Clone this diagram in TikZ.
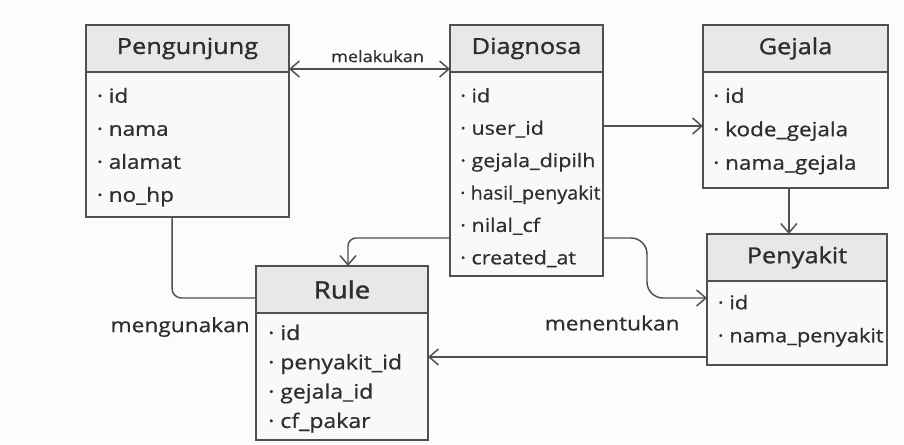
\documentclass[tikz,border=0pt]{standalone}
\usepackage{fontspec}
\usepackage{graphicx}
\usepackage{tikz}
\usetikzlibrary{arrows.meta,positioning}
\newfontfamily\erdfont{Open Sans}[FakeStretch=1.15,FakeBold=0.7]
\newfontfamily\erdheadfont{Open Sans}[FakeStretch=1.15,FakeBold=1.3]
\definecolor{ink}{HTML}{2E2E2E}
\definecolor{edge}{HTML}{505050}
\definecolor{headfill}{HTML}{E8E8E8}
\definecolor{bodyfill}{HTML}{F9F9F9}
\definecolor{paper}{HTML}{FDFBFB}

\tikzset{
  entityhead/.style={draw=edge,fill=headfill,line width=1.2pt,outer sep=0pt,inner sep=0pt,
    minimum height=35.25pt,text=ink,font=\erdheadfont\fontsize{16.5}{18}\selectfont},
  entitybody/.style={draw=edge,fill=bodyfill,line width=1.2pt,outer sep=0pt,inner sep=0pt},
  attrs/.style={anchor=north west,inner sep=0pt,align=left,text=ink,
    font=\erdfont\fontsize{14.7}{24.75}\selectfont},
  rel/.style={draw=edge,line width=1.1pt},
  onetip/.style={-{Straight Barb[length=7pt,width=12pt]}},
  twotips/.style={{Straight Barb[length=7pt,width=12pt]}-{Straight Barb[length=7pt,width=12pt]}},
  lbl/.style={text=ink,inner sep=0pt,font=\erdfont\fontsize{14.8}{16}\selectfont}
}

\begin{document}
\begin{tikzpicture}[x=0.75pt,y=-0.75pt]
\fill[paper] (0,0) rectangle (904,445);
\useasboundingbox (0,0) rectangle (904,445);

% entities
\node[entityhead,minimum width=152.25pt,anchor=north west] (pengH) at (86,25) {Pengunjung};
\node[entitybody,minimum width=152.25pt,minimum height=108.75pt,below=0pt of pengH] (pengB) {};
\node[attrs] (pengA) at ([xshift=8pt,yshift=-11.7pt]pengB.north west)
  {· id\\· nama\\· alamat\\· no\_hp};

\node[entityhead,minimum width=114.75pt,anchor=north west] (diagH) at (450,25) {Diagnosa};
\node[entitybody,minimum width=114.75pt,minimum height=153pt,below=0pt of diagH] (diagB) {};
\node[attrs,font=\erdfont\fontsize{14}{24.3}\selectfont] (diagA) at ([xshift=7.5pt,yshift=-11.9pt]diagB.north west)
  {· id\\· user\_id\\· gejala\_dipilh\\\scalebox{0.92}[1]{· hasil\_penyakit}\\· nilal\_cf\\· created\_at};

\node[entityhead,minimum width=138.75pt,anchor=north west] (gejH) at (703,25) {Gejala};
\node[entitybody,minimum width=138.75pt,minimum height=87pt,below=0pt of gejH] (gejB) {};
\node[attrs,font=\erdfont\fontsize{14.7}{25.1}\selectfont] (gejA) at ([xshift=7.5pt,yshift=-11.7pt]gejB.north west)
  {· id\\· kode\_gejala\\· nama\_gejala};

\node[entityhead,minimum width=135pt,anchor=north west] (penyH) at (707,234) {Penyakit};
\node[entitybody,minimum width=135pt,minimum height=63pt,below=0pt of penyH] (penyB) {};
\node[attrs,font=\erdfont\fontsize{14.2}{24.75}\selectfont] (penyA) at ([xshift=8pt,yshift=-10.2pt]penyB.north west)
  {· id\\· nama\_penyakit};

\node[entityhead,minimum width=129pt,anchor=north west,font=\erdheadfont\fontsize{18}{20}\selectfont] (ruleH) at (256,266) {Rule};
\node[entitybody,minimum width=129pt,minimum height=95.25pt,below=0pt of ruleH] (ruleB) {};
\node[attrs,font=\erdfont\fontsize{15}{22}\selectfont] (ruleA) at ([xshift=9pt,yshift=-8.6pt]ruleB.north west)
  {· id\\· penyakit\_id\\· gejala\_id\\· cf\_pakar};

% relations
\draw[rel,twotips] ([yshift=2.25pt]pengH.south east) --
  node[lbl,pos=0.55,above=4.5pt,font=\erdfont\fontsize{11.8}{13}\selectfont] (doesL) {melakukan}
  ([yshift=2.25pt]diagH.south west);
\draw[rel,onetip] ([yshift=-40.5pt]diagB.north east) -- ([yshift=-40.5pt]gejB.north west);
\draw[rel,onetip] ([xshift=-5pt]gejB.south) -- ([xshift=-5pt]gejB.south |- penyH.north);
\draw[rel,onetip,rounded corners=6pt] ([yshift=-124.5pt]diagB.north west) -| ([xshift=4.5pt]ruleH.north);
\draw[rel,onetip,rounded corners=12pt] ([yshift=-124.5pt]diagB.north east) -- ++(33pt,0)
  |- ([yshift=-12.75pt]penyB.north west);
\draw[rel,onetip] ([yshift=-57pt]penyB.north west) --
  node[lbl,pos=0.34,yshift=25.5pt] (setsL) {menentukan}
  ([yshift=-57pt]penyB.north west -| ruleB.east);
\draw[rel,rounded corners=7pt] ([xshift=-11.6pt]pengB.south) |- ([yshift=-24pt]ruleH.north west);
\node[lbl,anchor=east] (usesL) at ([xshift=-4.5pt,yshift=-10.5pt]ruleB.north west) {mengunakan};
\end{tikzpicture}
\end{document}
